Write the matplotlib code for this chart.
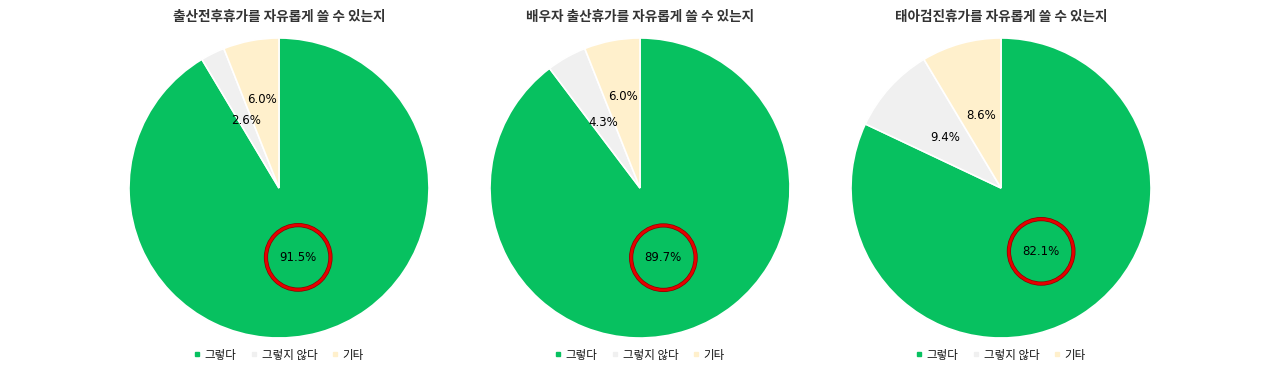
import numpy as np
import matplotlib.pyplot as plt
from matplotlib.lines import Line2D
from matplotlib.patches import Circle

plt.rcParams['font.family'] = ['Noto Sans CJK KR', 'DejaVu Sans']

titles = ["출산전후휴가를 자유롭게 쓸 수 있는지",
          "배우자 출산휴가를 자유롭게 쓸 수 있는지",
          "태아검진휴가를 자유롭게 쓸 수 있는지"]
categories = ["그렇다", "그렇지 않다", "기타"]
yes_vals = [91.5, 89.7, 82.1]
no_vals = [2.6, 4.3, 9.4]
etc_vals = [6.0, 6.0, 8.6]

colors = ["#07C160", "#F0F0F0", "#FFF0CC"]
# label distance from center (fraction of radius), small slices pushed out a bit
label_dist = [[0.48, 0.50, 0.60], [0.49, 0.50, 0.62], [0.50, 0.50, 0.50]]

W, H = 1280, 371
fig = plt.figure(figsize=(W / 100, H / 100), dpi=100)

centers_x = [279, 640, 1001]
cy = H - 188
R = 150

for i in range(3):
    cx = centers_x[i]
    ax = fig.add_axes([(cx - R) / W, (cy - R) / H, 2 * R / W, 2 * R / H])
    vals = [yes_vals[i], no_vals[i], etc_vals[i]]
    wedges, _ = ax.pie(vals, colors=colors, startangle=90, counterclock=False,
                       radius=1, wedgeprops=dict(edgecolor='white', linewidth=1.2))
    for j, w in enumerate(wedges):
        th = np.deg2rad((w.theta1 + w.theta2) / 2)
        d = label_dist[i][j]
        x, y = d * np.cos(th), d * np.sin(th)
        ax.text(x, y, f"{vals[j]:.1f}%", ha='center', va='center',
                fontsize=8.5, family=['DejaVu Sans'], color='black')
        if j == 0:
            ax.add_patch(Circle((x, y), 0.215, fill=False, edgecolor='#8B0000',
                                linewidth=3.0, zorder=5))
            ax.add_patch(Circle((x, y), 0.215, fill=False, edgecolor='#E60000',
                                linewidth=2.0, zorder=6))
    ax.set_xlim(-1, 1)
    ax.set_ylim(-1, 1)
    ax.set_aspect('equal')
    ax.axis('off')

    fig.text(cx / W, (H - 17) / H, titles[i], ha='center', va='center',
             fontsize=9.8, fontweight='bold', color='#333333')

    handles = [Line2D([], [], marker='s', linestyle='', markersize=3.5,
                      markerfacecolor=c, markeredgecolor=c) for c in colors]
    leg = fig.legend(handles, categories, loc='center', bbox_to_anchor=(cx / W, 16 / H),
                     ncol=3, frameon=False, handlelength=0.5,
                     handletextpad=0.4, columnspacing=1.3,
                     prop=dict(size=8.3))
    for t in leg.get_texts():
        t.set_color('#111111')

fig.savefig("out.png", dpi=100, facecolor='white')
